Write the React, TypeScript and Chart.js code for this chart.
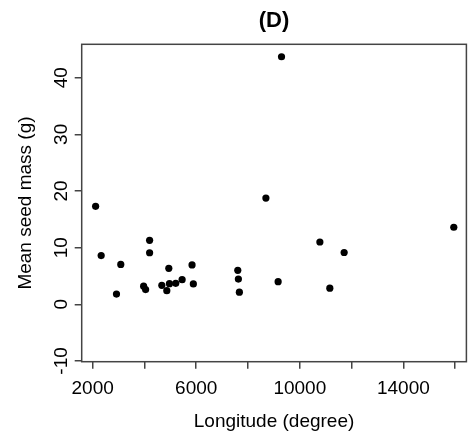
import React, { useEffect, useRef } from "react";
import { Chart, registerables } from "chart.js";

Chart.register(...registerables);

const longitude: number[] = [2115, 2330, 2921, 3087, 3969, 4046, 4200, 4200, 4672, 4864, 4941, 4967, 5209, 5455, 5839, 5889, 7605, 7628, 7666, 8691, 9163, 9294, 10775, 11159, 11712, 15946];
const seedMass: number[] = [17.3, 8.6, 1.8, 7.05, 3.2, 2.6, 11.3, 9.1, 3.35, 2.4, 6.35, 3.65, 3.7, 4.35, 6.95, 3.6, 6.0, 4.45, 2.15, 18.75, 4.0, 43.7, 11.0, 2.85, 9.15, 13.6];

const xTicks: number[] = [2000, 4000, 6000, 8000, 10000, 12000, 14000, 16000];
const xTickLabels: string[] = ["2000", "", "6000", "", "10000", "", "14000", ""];
const yTicks: number[] = [-10, 0, 10, 20, 30, 40];
const yTickLabels: string[] = ["-10", "0", "10", "20", "30", "40"];

const titleText = "(D)";
const xTitle = "Longitude (degree)";
const yTitle = "Mean seed mass (g)";

const FONT = "'Liberation Sans', Arial, Helvetica, sans-serif";
const AXIS = "#444";

const boxAndLabels = {
  id: "boxAndLabels",
  afterDraw(chart: any) {
    const { ctx, chartArea } = chart;
    const ys = chart.scales.y;
    ctx.save();
    ctx.strokeStyle = AXIS;
    ctx.lineWidth = 1.5;
    ctx.strokeRect(chartArea.left, chartArea.top, chartArea.right - chartArea.left, chartArea.bottom - chartArea.top);
    ctx.fillStyle = "#000";
    ctx.font = `19px ${FONT}`;
    ctx.textAlign = "center";
    ctx.textBaseline = "alphabetic";
    ys.ticks.forEach((t: any, i: number) => {
      const py = ys.getPixelForValue(t.value);
      const idx = yTicks.indexOf(t.value);
      const label = idx >= 0 ? yTickLabels[idx] : "";
      ctx.save();
      ctx.translate(67, py);
      ctx.rotate(-Math.PI / 2);
      ctx.fillText(label, 0, 0);
      ctx.restore();
    });
    ctx.font = `bold 22px ${FONT}`;
    ctx.textBaseline = "alphabetic";
    ctx.fillText(titleText, (chartArea.left + chartArea.right) / 2, 27);
    ctx.restore();
  },
};

export default function App() {
  const ref = useRef<HTMLCanvasElement | null>(null);
  useEffect(() => {
    if (!ref.current) return;
    const chart = new Chart(ref.current, {
      type: "scatter",
      data: {
        datasets: [
          {
            data: longitude.map((x, i) => ({ x, y: seedMass[i] })),
            backgroundColor: "#000",
            borderColor: "#000",
            pointRadius: 3.6,
            pointHoverRadius: 3.6,
            borderWidth: 0,
          },
        ],
      },
      options: {
        animation: false,
        responsive: false,
        events: [],
        layout: { padding: { top: 44.3, right: 1, bottom: 0, left: 0 } },
        plugins: { legend: { display: false }, tooltip: { enabled: false }, title: { display: false } },
        scales: {
          x: {
            type: "linear",
            min: 1578,
            max: 16433,
            afterBuildTicks: (s: any) => {
              s.ticks = xTicks.map((v) => ({ value: v }));
            },
            afterFit: (s: any) => {
              s.height = 76.3;
            },
            ticks: {
              autoSkip: false,
              maxRotation: 0,
              minRotation: 0,
              padding: 8.3,
              color: "#000",
              font: { family: FONT, size: 19 },
              callback: (v: any) => {
                const i = xTicks.indexOf(Number(v));
                return i >= 0 ? xTickLabels[i] : "";
              },
            },
            grid: { display: true, drawOnChartArea: false, drawTicks: true, tickLength: 7, color: AXIS, lineWidth: 1.5 },
            border: { display: false },
            title: { display: true, text: xTitle, color: "#000", font: { family: FONT, size: 19 }, padding: { top: 0, bottom: 5.2 } },
          },
          y: {
            type: "linear",
            min: -10.13,
            max: 45.9,
            afterBuildTicks: (s: any) => {
              s.ticks = yTicks.map((v) => ({ value: v }));
            },
            afterFit: (s: any) => {
              s.width = 81.7;
            },
            ticks: { display: false },
            grid: { display: true, drawOnChartArea: false, drawTicks: true, tickLength: 7, color: AXIS, lineWidth: 1.5 },
            border: { display: false },
            title: { display: true, text: yTitle, color: "#000", font: { family: FONT, size: 19 }, padding: { top: 14, bottom: 0 } },
          },
        },
      },
      plugins: [boxAndLabels],
    });
    return () => chart.destroy();
  }, []);
  return (
    <div style={{ position: "absolute", left: 0, top: 0, width: 470, height: 438, background: "#fff" }}>
      <canvas ref={ref} width={470} height={438} style={{ display: "block" }} />
    </div>
  );
}
